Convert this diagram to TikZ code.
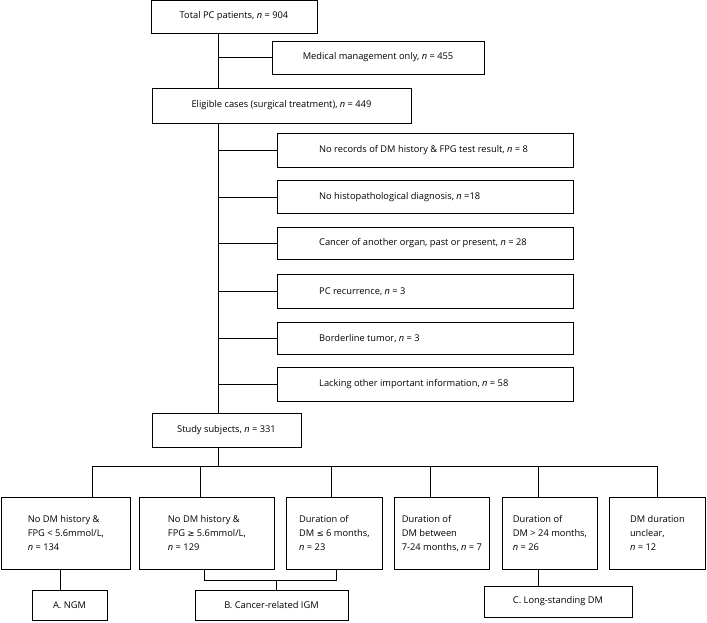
\documentclass[tikz,border=0pt]{standalone}
\usepackage{fontspec}
\setmainfont{Open Sans}
\newfontfamily\symf{DejaVu Sans}
\begin{document}
\begin{tikzpicture}[x=1pt,y=-1pt,
  box/.style={draw, line width=0.8pt, inner sep=0pt},
  txt/.style={inner sep=0pt, font=\fontsize{9.3}{14}\selectfont},
  btxt/.style={inner sep=0pt, align=left, font=\fontsize{9.3}{14}\selectfont},
  ln/.style={line width=0.8pt}]
\useasboundingbox (0,0) rectangle (707,622);
\newcommand{\nn}{\textit{n}}
% top boxes
\node[box, minimum width=166pt, minimum height=33pt, txt] (top) at (234,16.5) {Total PC patients, \nn{} = 904};
\node[box, minimum width=212pt, minimum height=33pt, txt] (med) at (378,57.5) {Medical management only, \nn{} = 455};
\node[box, minimum width=259pt, minimum height=35pt, txt] (elig) at (281.5,105.5) {Eligible cases (surgical treatment), \nn{} = 449};
% exclusions
\foreach \i/\ya/\yb in {1/133/167,2/180/213,3/227/259,4/274/308,5/322/354,6/367/401}{
  \node[box, minimum width=296pt, minimum height={\yb-\ya}, anchor=north west] (e\i) at (277,\ya) {};
}
\node[txt, anchor=west] (e1t) at ([xshift=42pt]e1.west) {No records of DM history \& FPG test result, \nn{} = 8};
\node[txt, anchor=west] (e2t) at ([xshift=42pt]e2.west) {No histopathological diagnosis, \nn{} =18};
\node[txt, anchor=west] (e3t) at ([xshift=42pt]e3.west) {Cancer of another organ, past or present, \nn{} = 28};
\node[txt, anchor=west] (e4t) at ([xshift=42pt]e4.west) {PC recurrence, \nn{} = 3};
\node[txt, anchor=west] (e5t) at ([xshift=42pt]e5.west) {Borderline tumor, \nn{} = 3};
\node[txt, anchor=west] (e6t) at ([xshift=42pt]e6.west) {Lacking other important information, \nn{} = 58};
% study
\node[box, minimum width=149pt, minimum height=34pt, txt] (study) at (226.5,430) {Study subjects, \nn{} = 331};
% main trunk
\coordinate (tr) at (218,0);
\draw[ln] (top.south -| tr) -- (elig.north -| tr);
\draw[ln] (elig.south -| tr) -- (study.north -| tr);
\draw[ln] (218,57.5) -- (med.west);
\foreach \i in {1,...,6}{ \draw[ln] (tr |- e\i.west) -- (e\i.west); }
% bus
\coordinate (bus) at (218,466);
\draw[ln] (study.south -| bus) -- (bus);
\draw[ln] (92,466) -- (658,466);
% bottom boxes
\foreach \i/\xa/\xb in {1/1/130,2/139/274,3/286/382,4/394/489,5/502/597,6/609/705}{
  \node[box, minimum width={\xb-\xa}, minimum height=72pt, anchor=north west] (b\i) at (\xa,497) {};
}
\node[btxt] (b1t) at (b1.center) {No DM history \&\\FPG < 5.6mmol/L,\\\nn{} = 134};
\node[btxt] (b2t) at (b2.center) {No DM history \&\\FPG {\symf\fontsize{8.3}{14}\selectfont ≥} 5.6mmol/L,\\\nn{} = 129};
\node[btxt] (b3t) at (b3.center) {Duration of\\DM {\symf\fontsize{8.3}{14}\selectfont ≤} 6 months,\\\nn{} = 23};
\node[btxt] (b4t) at (b4.center) {Duration of\\DM between\\7-24 months, \nn{} = 7};
\node[btxt] (b5t) at (b5.center) {Duration of\\DM > 24 months,\\\nn{} = 26};
\node[btxt] (b6t) at (b6.center) {DM duration\\unclear,\\\nn{} = 12};
\foreach \i/\x in {1/92,2/200,3/331,4/430,5/538,6/657}{
  \draw[ln] (\x,466) -- (\x,0 |- b\i.north);
}
% outcome boxes
\node[box, minimum width=75pt, minimum height=30pt, txt] (A) at (69.5,605) {A. NGM};
\node[box, minimum width=153pt, minimum height=30pt, txt] (B) at (271.5,605) {B. Cancer-related IGM};
\node[box, minimum width=148pt, minimum height=31pt, txt] (C) at (558,601.5) {C. Long-standing DM};
\draw[ln] (60,0 |- b1.south) -- (60,0 |- A.north);
\draw[ln] (204,0 |- b2.south) -- (204,580) -- (336,580) -- (336,0 |- b3.south);
\draw[ln] (276,580) -- (276,0 |- B.north);
\draw[ln] (538,0 |- b5.south) -- (538,0 |- C.north);
\end{tikzpicture}
\end{document}
